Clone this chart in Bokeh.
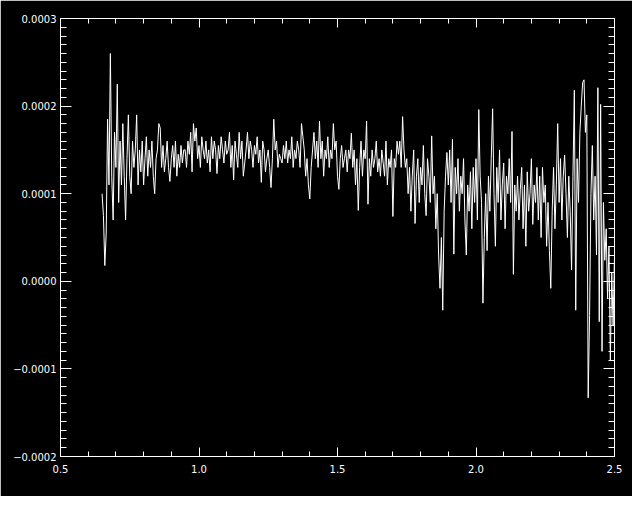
import numpy as np
from bokeh.plotting import figure
from bokeh.models import Range1d, FixedTicker, LinearAxis
from bokeh.embed import file_html
from bokeh.resources import INLINE

# wavelength grid (0.650 .. 2.500, step 0.005)
x_start, x_step = 0.650, 0.005

# flux values in units of 1e-5, in 0.1-wide blocks
seg_a = [10, 7.5, 1.8, 5.5, 18.5, 11, 26, 12, 7, 17, 13, 22.5, 9, 16, 11, 18, 12, 7, 14, 19]
seg_b = [12, 10, 16, 13, 15, 19, 11, 15, 12.5, 16, 11, 14, 16.5, 12, 15, 13, 16, 12, 10, 14]
seg_c = [15, 18, 17.5, 13, 15.5, 12.5, 14, 16, 13, 11.4, 14, 15.5, 13, 16, 12, 14.5, 13, 15.5, 13.5, 15]
seg_d = [15, 13, 16, 14.5, 17, 12.5, 18, 16, 17.5, 14, 15.5, 13, 16.5, 15, 14, 16, 13.5, 15, 12.5, 16.5]
seg_e = [14, 16, 15, 12.3, 15.5, 14, 16.5, 15, 13.5, 16, 14.5, 15, 17, 13, 15.5, 11.6, 16, 14.5, 13, 17]
seg_f = [14, 16, 12, 13.5, 15, 17, 14, 16, 15, 13, 15.5, 14.5, 16.5, 13.5, 15, 11.3, 16, 15, 12.5, 14]
seg_g = [15, 13, 10.7, 14, 18.5, 15, 16, 13, 14.5, 14, 13.5, 15.5, 14, 16, 13.5, 15, 14, 16.5, 13, 15]
seg_h = [14, 16, 15, 13, 18, 16.5, 15, 12, 14, 11, 9.4, 13, 15, 17, 14, 16, 13, 18.3, 14, 16]
seg_i = [12, 15, 14, 16.5, 13, 15, 14, 18, 15, 16, 12, 10.5, 14, 15.5, 13, 14, 15, 12.5, 15, 14]
seg_j = [16.9, 13, 15, 11, 14, 8.1, 13, 16, 12, 15, 14, 18.3, 8.8, 14, 12, 15, 13, 14, 16, 12.5]
seg_k = [14, 12, 15, 13.5, 12, 16, 11, 14, 13, 15, 7.4, 14, 13, 16, 14.5, 16, 13, 18.8, 15, 13]
seg_l = [14, 10, 13, 8, 12, 15, 6.6, 12, 14, 9, 13, 11, 15.5, 10, 7.5, 14, 12, 9, 16.6, 10]
seg_m = [12, 6, 10, 3, -0.8, 5, -3.3, 8, 12, 14.7, 11, 15, 9, 16.2, 3.1, 13, 10, 14, 8, 12]
seg_n = [10, 14, 7, 3, 11, 8, 12.5, 6, 13, 9, 14, 7, 19.6, 12, 9, -2.5, 5, 10, 3.5, 12]
seg_o = [8, 14, 19.7, 10, 4, 13, 9, 15, 7, 11, 13.5, 6, 12, 10, 14, 9, 17.1, 0.8, 11, 8]
seg_p = [12, 7, 10.5, 13, 6, 11, 4, 12.5, 8, 10, 14, 6.5, 11, 9, 13, 7, 12, 5, 13, 9]
seg_q = [11, 4, 9, 3.5, -0.8, 8, 13, 6, 11, 18, 9, 14, 7, 12, 14.4, 10, 5, 12, 8, 1.3]
seg_r = [12, 21.8, -3.3, 14, 9, 17, 20, 22.7, 23, 17, 19, -13.3, -3.9, 10, 15.5, 7, 12, 3, 22.1, -4.6]
seg_s = [20.2, -8, 9, 2.4, 6, -2, 4, -9, 1, -5, 3]

flux_e5 = (seg_a + seg_b + seg_c + seg_d + seg_e + seg_f + seg_g + seg_h + seg_i
           + seg_j + seg_k + seg_l + seg_m + seg_n + seg_o + seg_p + seg_q + seg_r + seg_s)

x_vals = x_start + x_step * np.arange(len(flux_e5))
y_vals = np.array(flux_e5) * 1e-5

x_major = [0.5, 1.0, 1.5, 2.0, 2.5]
x_labels = ["0.5", "1.0", "1.5", "2.0", "2.5"]
y_major = [-0.0002, -0.0001, 0.0, 0.0001, 0.0002, 0.0003]
y_labels = ["\u22120.0002", "\u22120.0001", "0.0000", "0.0001", "0.0002", "0.0003"]

x_minor = [round(0.5 + 0.1 * i, 3) for i in range(21)]
y_minor = [round(-0.0002 + 0.00001 * i, 7) for i in range(51)]

p = figure(width=632, height=496, output_backend="svg", toolbar_location=None,
           x_range=Range1d(0.5, 2.5), y_range=Range1d(-0.0002, 0.0003),
           min_border_left=60, min_border_right=18, min_border_top=18, min_border_bottom=40)
p.background_fill_color = "black"
p.border_fill_color = "black"
p.outline_line_color = "white"
p.grid.visible = False

xt = FixedTicker(ticks=x_major, minor_ticks=x_minor)
yt = FixedTicker(ticks=y_major, minor_ticks=y_minor)


def style(ax, ticker, major_len, minor_len):
    ax.ticker = ticker
    ax.axis_line_color = "white"
    ax.major_tick_line_color = "white"
    ax.minor_tick_line_color = "white"
    ax.major_tick_in = major_len
    ax.major_tick_out = 0
    ax.minor_tick_in = minor_len
    ax.minor_tick_out = 0
    ax.major_label_text_color = "white"
    ax.major_label_text_font = "DejaVu Sans"
    ax.major_label_text_font_size = "10px"


style(p.xaxis[0], xt, 9, 5)
p.xaxis[0].major_label_overrides = dict(zip(x_major, x_labels))
p.xaxis[0].major_label_standoff = 8
style(p.yaxis[0], yt, 11, 6)
p.yaxis[0].major_label_overrides = dict(zip(y_major, y_labels))
p.yaxis[0].major_label_standoff = 4

top = LinearAxis()
style(top, xt, 9, 5)
top.major_label_overrides = {t: "" for t in x_major}
top.major_label_standoff = 0
p.add_layout(top, "above")
right = LinearAxis()
style(right, yt, 11, 6)
right.major_label_overrides = {t: "" for t in y_major}
right.major_label_standoff = 0
p.add_layout(right, "right")

p.line(x_vals, y_vals, line_color="white", line_width=1)

open("out.html", "w").write(file_html(p, INLINE))
